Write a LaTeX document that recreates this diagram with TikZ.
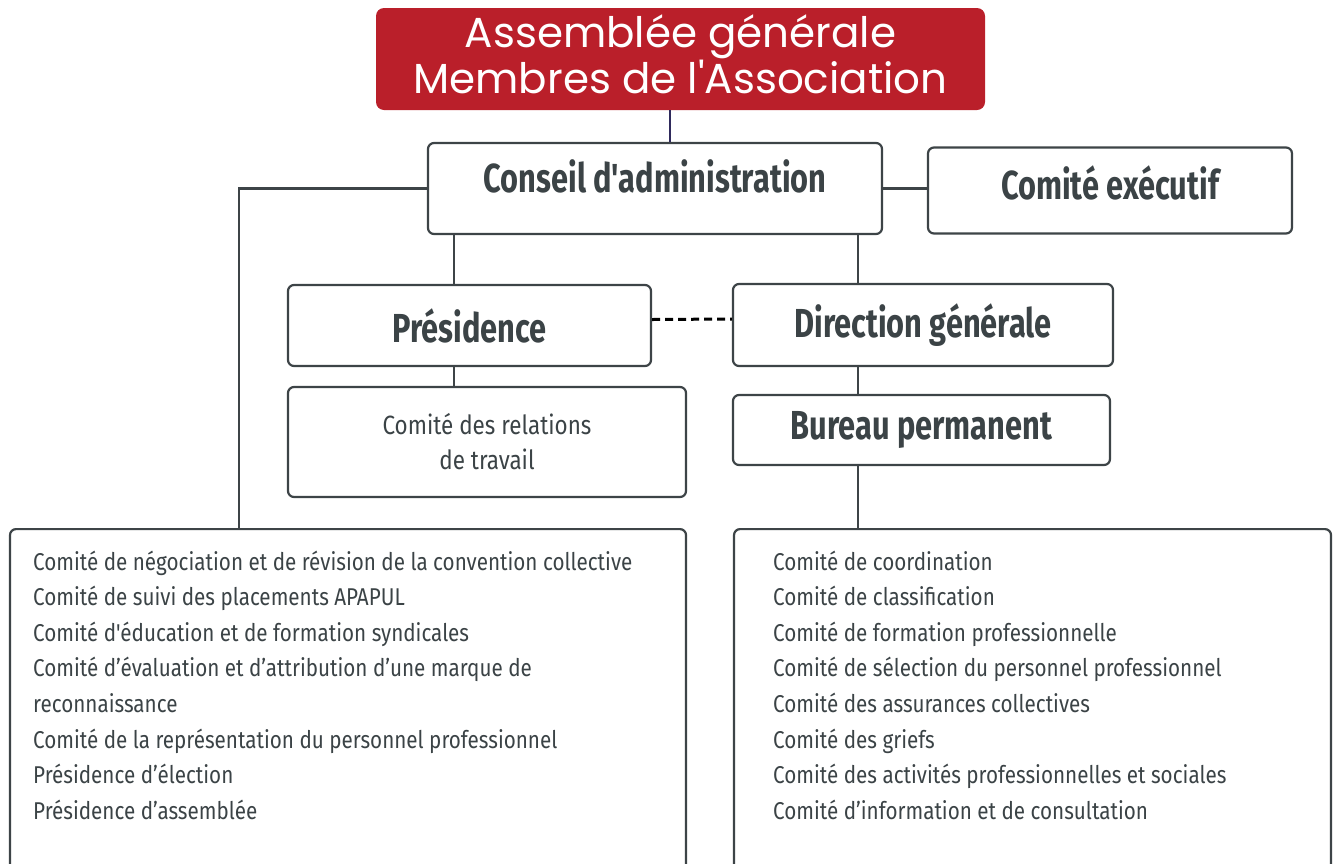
\documentclass[tikz,border=0pt]{standalone}
\usepackage{fontspec}
\setmainfont{Fira Sans}[FakeStretch=0.85, Ligatures=TeXOff]
\newfontfamily\headfont{Fira Sans}[FakeStretch=0.76, Ligatures=TeXOff]
\newfontfamily\titlefont{Poppins}[Ligatures=TeXOff]
\definecolor{redA}{HTML}{BA1F2A}
\definecolor{ink}{HTML}{3B4346}
\definecolor{edgec}{HTML}{3D4447}
\definecolor{navy}{HTML}{2F2A5C}
\begin{document}
\begin{tikzpicture}[x=1pt, y=-1pt]
        \tikzstyle{every node} = [align=center, inner sep=0pt, text=ink]
        \tikzstyle{box} = [draw=edgec, line width=2.2pt, rounded corners=6pt, fill=white]
        \tikzstyle{head} = [box, font=\headfont\bfseries\fontsize{40.5}{46}\selectfont]
        \tikzstyle{items} = [align=left, anchor=base west, font=\fontsize{24.3}{35.6}\selectfont]
        \tikzstyle{link} = [draw=edgec, line width=2.2pt]
        \clip (0,0) rectangle (1343,863);

        \node[fill=redA, rounded corners=8pt, minimum width=609pt, minimum height=102pt, text=white, text depth=10pt,
              font=\titlefont\fontsize{42}{41}\selectfont](ag) at (680.5,59){Assemblée générale\\Membres de l'Association};
        \node[head, minimum width=454pt, minimum height=91pt, text depth=24pt](ca) at (655,188.5){Conseil d'administration};
        \node[head, minimum width=364pt, minimum height=86pt, text depth=16pt](ex) at (1110,190.5){Comité exécutif};
        \node[head, minimum width=363pt, minimum height=81pt](pr) at (469.5,325.5){Présidence};
        \node[head, minimum width=380pt, minimum height=82pt](dg) at (923,325){Direction générale};
        \node[box, minimum width=398pt, minimum height=110pt,
              font=\fontsize{26.4}{35}\selectfont](rt) at (487,442){Comité des relations\\de travail};
        \node[head, minimum width=377pt, minimum height=70pt](bp) at (921.5,430){Bureau permanent};
        \node[box, minimum width=676pt, minimum height=370pt, anchor=north](lf) at (348,528){};
        \node[box, minimum width=597pt, minimum height=370pt, anchor=north](rg) at (1032.5,528){};

        % lists sit on the baseline of their last line
        \node[items](lfT) at (33,819.2){Comité de négociation et de révision de la convention collective\\
            Comité de suivi des placements APAPUL\\
            Comité d'éducation et de formation syndicales\\
            Comité d’évaluation et d’attribution d’une marque de\\
            reconnaissance\\
            Comité de la représentation du personnel professionnel\\
            Présidence d’élection\\
            Présidence d’assemblée};
        \node[items](rgT) at (773,819.2){Comité de coordination\\
            Comité de classification\\
            Comité de formation professionnelle\\
            Comité de sélection du personnel professionnel\\
            Comité des assurances collectives\\
            Comité des griefs\\
            Comité des activités professionnelles et sociales\\
            Comité d’information et de consultation};

        % junction columns
        \coordinate(c0) at (670,0);
        \coordinate(c1) at (454,0);
        \coordinate(c2) at (858,0);
        \coordinate(c3) at (239,0);

        \draw[navy, line width=2.2pt] (ag.south -| c0) -- (ca.north -| c0);
        \path[link] (ca.west) -| (lf.north -| c3);
        \path[link] (ca.east) -- (ex.west |- ca.east);
        \path[link] (ca.south -| c1) -- (pr.north -| c1);
        \path[link] (ca.south -| c2) -- (dg.north -| c2);
        \path[link] (pr.south -| c1) -- (rt.north -| c1);
        \path[link] (dg.south -| c2) -- (bp.north -| c2);
        \path[link] (bp.south -| c2) -- (lf.north -| c2);
        \draw[black, line width=3pt, dash pattern=on 8pt off 5pt] ([yshift=6pt]pr.east) -- ([yshift=6pt]dg.west);
\end{tikzpicture}
\end{document}
